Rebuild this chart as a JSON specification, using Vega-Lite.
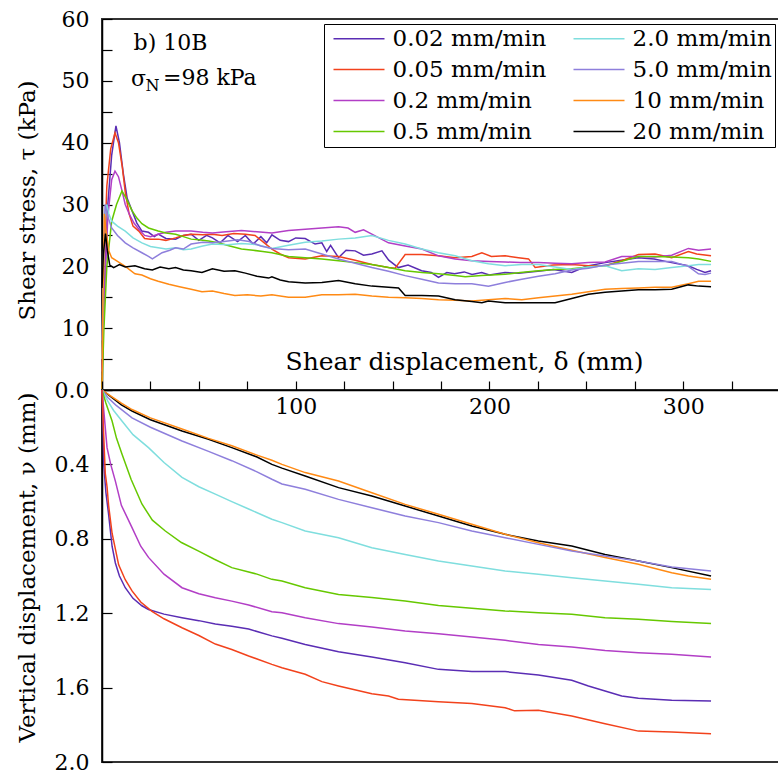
{
"$schema": "https://vega.github.io/schema/vega-lite/v6.json",
"padding": {"left": 14, "top": 7, "right": 0, "bottom": 5},
"background": "white",
"spacing": 0,
"bounds": "flush",
"config": {
  "font": "DejaVu Serif",
  "view": {"stroke": "#333333", "strokeWidth": 2},
  "axis": {"labelFont": "DejaVu Serif", "titleFont": "DejaVu Serif", "labelFontSize": 22, "titleFontSize": 23, "labelColor": "black", "titleColor": "black", "domainColor": "black", "tickColor": "black", "titleFontWeight": "normal", "grid": false, "domainWidth": 1.5, "tickWidth": 1.2, "labelOverlap": false, "labelFlush": false, "labelBound": false}
},
"datasets": {
  "tau": [
{"s":"0.02 mm/min","x":0,"y":2},{"s":"0.02 mm/min","x":1,"y":15},{"s":"0.02 mm/min","x":3,"y":30},{"s":"0.02 mm/min","x":5,"y":38},{"s":"0.02 mm/min","x":7.2,"y":42.7},{"s":"0.02 mm/min","x":9,"y":40},{"s":"0.02 mm/min","x":11,"y":35},{"s":"0.02 mm/min","x":13,"y":31},{"s":"0.02 mm/min","x":15.5,"y":29},{"s":"0.02 mm/min","x":18,"y":27},{"s":"0.02 mm/min","x":20.6,"y":25.7},{"s":"0.02 mm/min","x":24,"y":25.5},{"s":"0.02 mm/min","x":27,"y":24.8},{"s":"0.02 mm/min","x":29,"y":25.2},{"s":"0.02 mm/min","x":33,"y":24.5},{"s":"0.02 mm/min","x":38,"y":24.4},{"s":"0.02 mm/min","x":42,"y":25},{"s":"0.02 mm/min","x":46,"y":25.2},{"s":"0.02 mm/min","x":50,"y":24.2},{"s":"0.02 mm/min","x":54,"y":25},{"s":"0.02 mm/min","x":57,"y":24.6},{"s":"0.02 mm/min","x":61,"y":23.8},{"s":"0.02 mm/min","x":65,"y":25},{"s":"0.02 mm/min","x":70,"y":24},{"s":"0.02 mm/min","x":74,"y":25},{"s":"0.02 mm/min","x":78,"y":23.6},{"s":"0.02 mm/min","x":82,"y":24.8},{"s":"0.02 mm/min","x":85,"y":23.8},{"s":"0.02 mm/min","x":87.7,"y":25.1},{"s":"0.02 mm/min","x":92,"y":24.2},{"s":"0.02 mm/min","x":96.3,"y":24},{"s":"0.02 mm/min","x":100,"y":24.6},{"s":"0.02 mm/min","x":104.9,"y":24.5},{"s":"0.02 mm/min","x":110,"y":23.6},{"s":"0.02 mm/min","x":113.5,"y":23.8},{"s":"0.02 mm/min","x":116,"y":22.4},{"s":"0.02 mm/min","x":118,"y":23.4},{"s":"0.02 mm/min","x":122.1,"y":21.4},{"s":"0.02 mm/min","x":126,"y":22.6},{"s":"0.02 mm/min","x":130.7,"y":22.5},{"s":"0.02 mm/min","x":135,"y":21.8},{"s":"0.02 mm/min","x":139.3,"y":22},{"s":"0.02 mm/min","x":144.5,"y":22.5},{"s":"0.02 mm/min","x":148,"y":21},{"s":"0.02 mm/min","x":153,"y":19.8},{"s":"0.02 mm/min","x":158,"y":20.2},{"s":"0.02 mm/min","x":165,"y":19.3},{"s":"0.02 mm/min","x":170,"y":19},{"s":"0.02 mm/min","x":173.7,"y":18.2},{"s":"0.02 mm/min","x":178,"y":19},{"s":"0.02 mm/min","x":182,"y":18.8},{"s":"0.02 mm/min","x":187,"y":19.1},{"s":"0.02 mm/min","x":191,"y":18.7},{"s":"0.02 mm/min","x":196,"y":19},{"s":"0.02 mm/min","x":200,"y":18.6},{"s":"0.02 mm/min","x":208,"y":19},{"s":"0.02 mm/min","x":215,"y":18.9},{"s":"0.02 mm/min","x":225,"y":19.2},{"s":"0.02 mm/min","x":233,"y":19.5},{"s":"0.02 mm/min","x":242.5,"y":19},{"s":"0.02 mm/min","x":250,"y":20},{"s":"0.02 mm/min","x":259.7,"y":20.6},{"s":"0.02 mm/min","x":268,"y":21},{"s":"0.02 mm/min","x":276.9,"y":21.4},{"s":"0.02 mm/min","x":285,"y":21.2},{"s":"0.02 mm/min","x":294,"y":20.6},{"s":"0.02 mm/min","x":302.7,"y":20.1},{"s":"0.02 mm/min","x":307,"y":19.5},{"s":"0.02 mm/min","x":311.3,"y":19},{"s":"0.02 mm/min","x":314.4,"y":19.3},
{"s":"0.05 mm/min","x":0,"y":5},{"s":"0.05 mm/min","x":1,"y":20},{"s":"0.05 mm/min","x":2.5,"y":33},{"s":"0.05 mm/min","x":4.5,"y":39},{"s":"0.05 mm/min","x":6.7,"y":41.6},{"s":"0.05 mm/min","x":8.5,"y":40},{"s":"0.05 mm/min","x":10.5,"y":36},{"s":"0.05 mm/min","x":12,"y":32},{"s":"0.05 mm/min","x":14,"y":28.5},{"s":"0.05 mm/min","x":16,"y":26.5},{"s":"0.05 mm/min","x":19,"y":25.7},{"s":"0.05 mm/min","x":22,"y":24.5},{"s":"0.05 mm/min","x":25,"y":24.4},{"s":"0.05 mm/min","x":29,"y":24.4},{"s":"0.05 mm/min","x":33,"y":24.2},{"s":"0.05 mm/min","x":38,"y":24.6},{"s":"0.05 mm/min","x":42,"y":25},{"s":"0.05 mm/min","x":46,"y":25.2},{"s":"0.05 mm/min","x":52,"y":25.1},{"s":"0.05 mm/min","x":57,"y":25.2},{"s":"0.05 mm/min","x":62,"y":25},{"s":"0.05 mm/min","x":68,"y":25.3},{"s":"0.05 mm/min","x":74,"y":25.2},{"s":"0.05 mm/min","x":79,"y":25},{"s":"0.05 mm/min","x":83,"y":24},{"s":"0.05 mm/min","x":87.7,"y":22.8},{"s":"0.05 mm/min","x":92,"y":22},{"s":"0.05 mm/min","x":96.3,"y":21.4},{"s":"0.05 mm/min","x":104.9,"y":21.2},{"s":"0.05 mm/min","x":113.5,"y":21.7},{"s":"0.05 mm/min","x":122.1,"y":21.6},{"s":"0.05 mm/min","x":130.7,"y":21},{"s":"0.05 mm/min","x":139.3,"y":20.3},{"s":"0.05 mm/min","x":147.9,"y":19.8},{"s":"0.05 mm/min","x":151.3,"y":19.7},{"s":"0.05 mm/min","x":156.5,"y":21.9},{"s":"0.05 mm/min","x":165.1,"y":21.9},{"s":"0.05 mm/min","x":173.7,"y":21.7},{"s":"0.05 mm/min","x":182.3,"y":21.4},{"s":"0.05 mm/min","x":190.9,"y":21.6},{"s":"0.05 mm/min","x":196.1,"y":22.2},{"s":"0.05 mm/min","x":201,"y":21.6},{"s":"0.05 mm/min","x":208.1,"y":21.7},{"s":"0.05 mm/min","x":215,"y":21.4},{"s":"0.05 mm/min","x":220.2,"y":21.2},{"s":"0.05 mm/min","x":223.6,"y":19.8},{"s":"0.05 mm/min","x":233,"y":20.2},{"s":"0.05 mm/min","x":242.5,"y":20.3},{"s":"0.05 mm/min","x":251,"y":20.1},{"s":"0.05 mm/min","x":259.7,"y":20.1},{"s":"0.05 mm/min","x":268.3,"y":20.9},{"s":"0.05 mm/min","x":276.9,"y":21.9},{"s":"0.05 mm/min","x":285.5,"y":22},{"s":"0.05 mm/min","x":294.1,"y":21.4},{"s":"0.05 mm/min","x":302.7,"y":22.4},{"s":"0.05 mm/min","x":307,"y":22},{"s":"0.05 mm/min","x":314.4,"y":21.7},
{"s":"0.2 mm/min","x":0,"y":3},{"s":"0.2 mm/min","x":1,"y":14},{"s":"0.2 mm/min","x":3,"y":28},{"s":"0.2 mm/min","x":5,"y":34},{"s":"0.2 mm/min","x":6.7,"y":35.4},{"s":"0.2 mm/min","x":8.5,"y":34.5},{"s":"0.2 mm/min","x":10.5,"y":32},{"s":"0.2 mm/min","x":12,"y":30},{"s":"0.2 mm/min","x":14,"y":28.5},{"s":"0.2 mm/min","x":16.5,"y":27},{"s":"0.2 mm/min","x":19,"y":26},{"s":"0.2 mm/min","x":22,"y":25},{"s":"0.2 mm/min","x":25,"y":24.8},{"s":"0.2 mm/min","x":29,"y":25.2},{"s":"0.2 mm/min","x":33,"y":25.5},{"s":"0.2 mm/min","x":38,"y":25.7},{"s":"0.2 mm/min","x":46,"y":25.7},{"s":"0.2 mm/min","x":52,"y":25.5},{"s":"0.2 mm/min","x":57,"y":25.4},{"s":"0.2 mm/min","x":64,"y":25.6},{"s":"0.2 mm/min","x":72,"y":25.8},{"s":"0.2 mm/min","x":80,"y":25.6},{"s":"0.2 mm/min","x":87.7,"y":25.4},{"s":"0.2 mm/min","x":96.3,"y":25.8},{"s":"0.2 mm/min","x":104.9,"y":26},{"s":"0.2 mm/min","x":113.5,"y":26.2},{"s":"0.2 mm/min","x":122.1,"y":26.4},{"s":"0.2 mm/min","x":127,"y":26.2},{"s":"0.2 mm/min","x":130.7,"y":25.5},{"s":"0.2 mm/min","x":135,"y":25.9},{"s":"0.2 mm/min","x":139.3,"y":25.2},{"s":"0.2 mm/min","x":147.9,"y":23.8},{"s":"0.2 mm/min","x":156.5,"y":23.3},{"s":"0.2 mm/min","x":165.1,"y":22.8},{"s":"0.2 mm/min","x":173.7,"y":21.7},{"s":"0.2 mm/min","x":182.3,"y":21.2},{"s":"0.2 mm/min","x":190.9,"y":20.9},{"s":"0.2 mm/min","x":200,"y":20.8},{"s":"0.2 mm/min","x":208.1,"y":20.7},{"s":"0.2 mm/min","x":216,"y":20.6},{"s":"0.2 mm/min","x":225.3,"y":20.6},{"s":"0.2 mm/min","x":233.9,"y":20.5},{"s":"0.2 mm/min","x":242.5,"y":20.4},{"s":"0.2 mm/min","x":251,"y":20.6},{"s":"0.2 mm/min","x":259.7,"y":20.7},{"s":"0.2 mm/min","x":268.3,"y":21.6},{"s":"0.2 mm/min","x":276.9,"y":21.6},{"s":"0.2 mm/min","x":285.5,"y":21.5},{"s":"0.2 mm/min","x":294.1,"y":21.8},{"s":"0.2 mm/min","x":302.7,"y":22.9},{"s":"0.2 mm/min","x":308,"y":22.6},{"s":"0.2 mm/min","x":314.4,"y":22.8},
{"s":"0.5 mm/min","x":0,"y":0},{"s":"0.5 mm/min","x":1,"y":10},{"s":"0.5 mm/min","x":2.5,"y":20},{"s":"0.5 mm/min","x":5,"y":27.3},{"s":"0.5 mm/min","x":7.5,"y":30},{"s":"0.5 mm/min","x":10.3,"y":32.2},{"s":"0.5 mm/min","x":12.5,"y":31},{"s":"0.5 mm/min","x":15.5,"y":29},{"s":"0.5 mm/min","x":18,"y":27.8},{"s":"0.5 mm/min","x":20.6,"y":26.9},{"s":"0.5 mm/min","x":24,"y":26.2},{"s":"0.5 mm/min","x":29,"y":25.7},{"s":"0.5 mm/min","x":33,"y":25.4},{"s":"0.5 mm/min","x":38,"y":25.2},{"s":"0.5 mm/min","x":42,"y":24.8},{"s":"0.5 mm/min","x":46,"y":24.4},{"s":"0.5 mm/min","x":50,"y":24.3},{"s":"0.5 mm/min","x":55,"y":24.1},{"s":"0.5 mm/min","x":60,"y":23.8},{"s":"0.5 mm/min","x":66,"y":23.3},{"s":"0.5 mm/min","x":72,"y":22.8},{"s":"0.5 mm/min","x":78,"y":22.6},{"s":"0.5 mm/min","x":83,"y":22.4},{"s":"0.5 mm/min","x":87.7,"y":22.2},{"s":"0.5 mm/min","x":96.3,"y":21.6},{"s":"0.5 mm/min","x":104.9,"y":21.4},{"s":"0.5 mm/min","x":113.5,"y":21.2},{"s":"0.5 mm/min","x":122.1,"y":20.9},{"s":"0.5 mm/min","x":130.7,"y":20.6},{"s":"0.5 mm/min","x":139.3,"y":20.3},{"s":"0.5 mm/min","x":147.9,"y":19.8},{"s":"0.5 mm/min","x":156.5,"y":19.3},{"s":"0.5 mm/min","x":165.1,"y":19},{"s":"0.5 mm/min","x":173.7,"y":18.8},{"s":"0.5 mm/min","x":182.3,"y":18.5},{"s":"0.5 mm/min","x":187.5,"y":18.3},{"s":"0.5 mm/min","x":196,"y":18.5},{"s":"0.5 mm/min","x":208.1,"y":18.7},{"s":"0.5 mm/min","x":216,"y":19},{"s":"0.5 mm/min","x":225.3,"y":19.3},{"s":"0.5 mm/min","x":233.9,"y":19.5},{"s":"0.5 mm/min","x":242.5,"y":19.6},{"s":"0.5 mm/min","x":251,"y":19.9},{"s":"0.5 mm/min","x":259.7,"y":20.1},{"s":"0.5 mm/min","x":268.3,"y":20.8},{"s":"0.5 mm/min","x":276.9,"y":21.6},{"s":"0.5 mm/min","x":285.5,"y":21.6},{"s":"0.5 mm/min","x":294.1,"y":21.5},{"s":"0.5 mm/min","x":302.7,"y":21.4},{"s":"0.5 mm/min","x":308,"y":21.2},{"s":"0.5 mm/min","x":314.4,"y":20.8},
{"s":"2.0 mm/min","x":0,"y":5},{"s":"2.0 mm/min","x":0.8,"y":20},{"s":"2.0 mm/min","x":1.5,"y":28},{"s":"2.0 mm/min","x":2.5,"y":30},{"s":"2.0 mm/min","x":3.5,"y":28.5},{"s":"2.0 mm/min","x":5,"y":27.3},{"s":"2.0 mm/min","x":8,"y":26.5},{"s":"2.0 mm/min","x":12,"y":25.7},{"s":"2.0 mm/min","x":16,"y":24.6},{"s":"2.0 mm/min","x":20.6,"y":23.8},{"s":"2.0 mm/min","x":25,"y":23.2},{"s":"2.0 mm/min","x":29,"y":23},{"s":"2.0 mm/min","x":33,"y":22.8},{"s":"2.0 mm/min","x":38,"y":23},{"s":"2.0 mm/min","x":42,"y":22.7},{"s":"2.0 mm/min","x":46,"y":22.8},{"s":"2.0 mm/min","x":52,"y":23.3},{"s":"2.0 mm/min","x":57,"y":23.6},{"s":"2.0 mm/min","x":65,"y":23.5},{"s":"2.0 mm/min","x":72,"y":23.7},{"s":"2.0 mm/min","x":80,"y":23.5},{"s":"2.0 mm/min","x":87.7,"y":22.9},{"s":"2.0 mm/min","x":96.3,"y":23.4},{"s":"2.0 mm/min","x":104.9,"y":23.9},{"s":"2.0 mm/min","x":113.5,"y":24.1},{"s":"2.0 mm/min","x":122.1,"y":24.4},{"s":"2.0 mm/min","x":130.7,"y":24.6},{"s":"2.0 mm/min","x":139.3,"y":25},{"s":"2.0 mm/min","x":147.9,"y":24.2},{"s":"2.0 mm/min","x":156.5,"y":23.6},{"s":"2.0 mm/min","x":165.1,"y":22.8},{"s":"2.0 mm/min","x":173.7,"y":22.2},{"s":"2.0 mm/min","x":182.3,"y":21.7},{"s":"2.0 mm/min","x":190.9,"y":20.9},{"s":"2.0 mm/min","x":199.5,"y":20.4},{"s":"2.0 mm/min","x":208.1,"y":20.1},{"s":"2.0 mm/min","x":216.7,"y":20.3},{"s":"2.0 mm/min","x":225.3,"y":20.3},{"s":"2.0 mm/min","x":233.9,"y":19.9},{"s":"2.0 mm/min","x":242.5,"y":19.5},{"s":"2.0 mm/min","x":251.1,"y":19.9},{"s":"2.0 mm/min","x":259.7,"y":20.1},{"s":"2.0 mm/min","x":268.3,"y":19.3},{"s":"2.0 mm/min","x":276.9,"y":19.6},{"s":"2.0 mm/min","x":285.5,"y":19.5},{"s":"2.0 mm/min","x":294.1,"y":19.8},{"s":"2.0 mm/min","x":302.7,"y":20.1},{"s":"2.0 mm/min","x":308,"y":20.3},{"s":"2.0 mm/min","x":314.4,"y":20.3},
{"s":"5.0 mm/min","x":0,"y":8},{"s":"5.0 mm/min","x":0.8,"y":22},{"s":"5.0 mm/min","x":1.6,"y":30},{"s":"5.0 mm/min","x":3,"y":28},{"s":"5.0 mm/min","x":5,"y":26.2},{"s":"5.0 mm/min","x":8,"y":25},{"s":"5.0 mm/min","x":12,"y":23.8},{"s":"5.0 mm/min","x":16,"y":23},{"s":"5.0 mm/min","x":20.6,"y":22.2},{"s":"5.0 mm/min","x":24,"y":21.6},{"s":"5.0 mm/min","x":26,"y":21.2},{"s":"5.0 mm/min","x":28,"y":21.6},{"s":"5.0 mm/min","x":31,"y":22.2},{"s":"5.0 mm/min","x":35,"y":22.6},{"s":"5.0 mm/min","x":38,"y":23},{"s":"5.0 mm/min","x":42,"y":22.8},{"s":"5.0 mm/min","x":46,"y":23.6},{"s":"5.0 mm/min","x":52,"y":23.9},{"s":"5.0 mm/min","x":57,"y":23.8},{"s":"5.0 mm/min","x":63,"y":24},{"s":"5.0 mm/min","x":70,"y":24.3},{"s":"5.0 mm/min","x":76,"y":24},{"s":"5.0 mm/min","x":82,"y":23.3},{"s":"5.0 mm/min","x":87.7,"y":22.9},{"s":"5.0 mm/min","x":96.3,"y":22.7},{"s":"5.0 mm/min","x":104.9,"y":22.8},{"s":"5.0 mm/min","x":113.5,"y":22},{"s":"5.0 mm/min","x":122.1,"y":21.2},{"s":"5.0 mm/min","x":130.7,"y":20.5},{"s":"5.0 mm/min","x":139.3,"y":19.8},{"s":"5.0 mm/min","x":147.9,"y":19.2},{"s":"5.0 mm/min","x":156.5,"y":18.5},{"s":"5.0 mm/min","x":165.1,"y":17.9},{"s":"5.0 mm/min","x":173.7,"y":17.3},{"s":"5.0 mm/min","x":182.3,"y":17.2},{"s":"5.0 mm/min","x":190.9,"y":17.2},{"s":"5.0 mm/min","x":199.5,"y":16.8},{"s":"5.0 mm/min","x":208.1,"y":17.4},{"s":"5.0 mm/min","x":216.7,"y":17.9},{"s":"5.0 mm/min","x":225.3,"y":18.4},{"s":"5.0 mm/min","x":233.9,"y":18.8},{"s":"5.0 mm/min","x":242.5,"y":19.4},{"s":"5.0 mm/min","x":251.1,"y":19.7},{"s":"5.0 mm/min","x":259.7,"y":20.2},{"s":"5.0 mm/min","x":268.3,"y":20.5},{"s":"5.0 mm/min","x":276.9,"y":20.8},{"s":"5.0 mm/min","x":285.5,"y":20.8},{"s":"5.0 mm/min","x":294.1,"y":20.8},{"s":"5.0 mm/min","x":302.7,"y":20},{"s":"5.0 mm/min","x":307.9,"y":18.8},{"s":"5.0 mm/min","x":311.3,"y":18.7},{"s":"5.0 mm/min","x":314.4,"y":18.9},
{"s":"10 mm/min","x":0,"y":0},{"s":"10 mm/min","x":0.5,"y":15},{"s":"10 mm/min","x":1.2,"y":28.5},{"s":"10 mm/min","x":2,"y":26},{"s":"10 mm/min","x":3.5,"y":22.5},{"s":"10 mm/min","x":5,"y":21.4},{"s":"10 mm/min","x":8,"y":20.8},{"s":"10 mm/min","x":12,"y":20},{"s":"10 mm/min","x":17,"y":18.8},{"s":"10 mm/min","x":20.6,"y":18.6},{"s":"10 mm/min","x":25,"y":18},{"s":"10 mm/min","x":29,"y":17.6},{"s":"10 mm/min","x":34.5,"y":17.1},{"s":"10 mm/min","x":40,"y":16.7},{"s":"10 mm/min","x":46,"y":16.3},{"s":"10 mm/min","x":51.6,"y":15.9},{"s":"10 mm/min","x":57,"y":16},{"s":"10 mm/min","x":63,"y":15.6},{"s":"10 mm/min","x":68.6,"y":15.3},{"s":"10 mm/min","x":75,"y":15.4},{"s":"10 mm/min","x":82,"y":15.2},{"s":"10 mm/min","x":87.7,"y":15.4},{"s":"10 mm/min","x":96.3,"y":15},{"s":"10 mm/min","x":104.9,"y":15},{"s":"10 mm/min","x":113.5,"y":15.4},{"s":"10 mm/min","x":122.1,"y":15.4},{"s":"10 mm/min","x":130.7,"y":15.5},{"s":"10 mm/min","x":139.3,"y":15.2},{"s":"10 mm/min","x":147.9,"y":15},{"s":"10 mm/min","x":156.5,"y":14.9},{"s":"10 mm/min","x":165.1,"y":14.8},{"s":"10 mm/min","x":173.7,"y":14.6},{"s":"10 mm/min","x":182.3,"y":14.5},{"s":"10 mm/min","x":190.9,"y":14.4},{"s":"10 mm/min","x":199.5,"y":14.6},{"s":"10 mm/min","x":208.1,"y":14.8},{"s":"10 mm/min","x":216.7,"y":14.6},{"s":"10 mm/min","x":225.3,"y":14.9},{"s":"10 mm/min","x":233.9,"y":15.2},{"s":"10 mm/min","x":242.5,"y":15.5},{"s":"10 mm/min","x":251.1,"y":15.9},{"s":"10 mm/min","x":259.7,"y":16.3},{"s":"10 mm/min","x":268.3,"y":16.4},{"s":"10 mm/min","x":276.9,"y":16.5},{"s":"10 mm/min","x":285.5,"y":16.6},{"s":"10 mm/min","x":294.1,"y":16.6},{"s":"10 mm/min","x":302.7,"y":17.2},{"s":"10 mm/min","x":308,"y":17.6},{"s":"10 mm/min","x":314.4,"y":17.6},
{"s":"20 mm/min","x":0,"y":16.5},{"s":"20 mm/min","x":0.7,"y":22},{"s":"20 mm/min","x":1.8,"y":25.3},{"s":"20 mm/min","x":2.8,"y":22.5},{"s":"20 mm/min","x":4,"y":20.2},{"s":"20 mm/min","x":6,"y":19.8},{"s":"20 mm/min","x":9,"y":20.3},{"s":"20 mm/min","x":12,"y":19.9},{"s":"20 mm/min","x":17,"y":20.1},{"s":"20 mm/min","x":22,"y":19.6},{"s":"20 mm/min","x":26,"y":19.4},{"s":"20 mm/min","x":30,"y":19.9},{"s":"20 mm/min","x":34.5,"y":19.6},{"s":"20 mm/min","x":38,"y":19.8},{"s":"20 mm/min","x":42,"y":19.4},{"s":"20 mm/min","x":46,"y":19.3},{"s":"20 mm/min","x":51.6,"y":19},{"s":"20 mm/min","x":57,"y":19.6},{"s":"20 mm/min","x":63,"y":19.2},{"s":"20 mm/min","x":68.6,"y":19.3},{"s":"20 mm/min","x":74,"y":18.9},{"s":"20 mm/min","x":80,"y":18.4},{"s":"20 mm/min","x":86,"y":18.1},{"s":"20 mm/min","x":87.7,"y":18.3},{"s":"20 mm/min","x":92,"y":17.8},{"s":"20 mm/min","x":96.3,"y":17.5},{"s":"20 mm/min","x":104.9,"y":17.3},{"s":"20 mm/min","x":113.5,"y":17.4},{"s":"20 mm/min","x":122.1,"y":17.7},{"s":"20 mm/min","x":130.7,"y":17.2},{"s":"20 mm/min","x":139.3,"y":16.8},{"s":"20 mm/min","x":147.9,"y":16.6},{"s":"20 mm/min","x":153.1,"y":16.5},{"s":"20 mm/min","x":156.5,"y":15.3},{"s":"20 mm/min","x":165.1,"y":15.3},{"s":"20 mm/min","x":173.7,"y":15.2},{"s":"20 mm/min","x":182.3,"y":14.6},{"s":"20 mm/min","x":190.9,"y":14.3},{"s":"20 mm/min","x":196.1,"y":14.1},{"s":"20 mm/min","x":199.5,"y":14.4},{"s":"20 mm/min","x":208.1,"y":14.1},{"s":"20 mm/min","x":216.7,"y":14.1},{"s":"20 mm/min","x":225.3,"y":14.1},{"s":"20 mm/min","x":233.9,"y":14.1},{"s":"20 mm/min","x":242.5,"y":14.8},{"s":"20 mm/min","x":251.1,"y":15.5},{"s":"20 mm/min","x":259.7,"y":15.8},{"s":"20 mm/min","x":268.3,"y":16},{"s":"20 mm/min","x":276.9,"y":16.2},{"s":"20 mm/min","x":285.5,"y":16.2},{"s":"20 mm/min","x":294.1,"y":16.3},{"s":"20 mm/min","x":302.7,"y":17},{"s":"20 mm/min","x":308,"y":16.8},{"s":"20 mm/min","x":314.4,"y":16.7}
  ],
  "nu": [
{"s":"20 mm/min","x":0,"y":0},{"s":"20 mm/min","x":5,"y":0.04},{"s":"20 mm/min","x":10,"y":0.08},{"s":"20 mm/min","x":15.5,"y":0.113},{"s":"20 mm/min","x":25,"y":0.16},{"s":"20 mm/min","x":41.3,"y":0.22},{"s":"20 mm/min","x":55,"y":0.265},{"s":"20 mm/min","x":67,"y":0.31},{"s":"20 mm/min","x":80,"y":0.36},{"s":"20 mm/min","x":87.7,"y":0.4},{"s":"20 mm/min","x":92.9,"y":0.42},{"s":"20 mm/min","x":104.9,"y":0.462},{"s":"20 mm/min","x":122.1,"y":0.525},{"s":"20 mm/min","x":139.3,"y":0.57},{"s":"20 mm/min","x":156.5,"y":0.624},{"s":"20 mm/min","x":173.7,"y":0.677},{"s":"20 mm/min","x":190.9,"y":0.731},{"s":"20 mm/min","x":208.1,"y":0.776},{"s":"20 mm/min","x":225.3,"y":0.812},{"s":"20 mm/min","x":242.5,"y":0.839},{"s":"20 mm/min","x":259.7,"y":0.884},{"s":"20 mm/min","x":276.9,"y":0.919},{"s":"20 mm/min","x":294.1,"y":0.955},{"s":"20 mm/min","x":314.4,"y":1},
{"s":"10 mm/min","x":0,"y":0},{"s":"10 mm/min","x":5,"y":0.035},{"s":"10 mm/min","x":10,"y":0.07},{"s":"10 mm/min","x":15.5,"y":0.105},{"s":"10 mm/min","x":25,"y":0.15},{"s":"10 mm/min","x":41.3,"y":0.21},{"s":"10 mm/min","x":55,"y":0.26},{"s":"10 mm/min","x":67,"y":0.3},{"s":"10 mm/min","x":80,"y":0.35},{"s":"10 mm/min","x":87.7,"y":0.378},{"s":"10 mm/min","x":92.9,"y":0.4},{"s":"10 mm/min","x":104.9,"y":0.444},{"s":"10 mm/min","x":122.1,"y":0.489},{"s":"10 mm/min","x":139.3,"y":0.552},{"s":"10 mm/min","x":156.5,"y":0.615},{"s":"10 mm/min","x":173.7,"y":0.668},{"s":"10 mm/min","x":190.9,"y":0.722},{"s":"10 mm/min","x":208.1,"y":0.776},{"s":"10 mm/min","x":225.3,"y":0.821},{"s":"10 mm/min","x":242.5,"y":0.862},{"s":"10 mm/min","x":259.7,"y":0.901},{"s":"10 mm/min","x":276.9,"y":0.937},{"s":"10 mm/min","x":294.1,"y":0.982},{"s":"10 mm/min","x":302.7,"y":1},{"s":"10 mm/min","x":314.4,"y":1.018},
{"s":"5.0 mm/min","x":0,"y":0},{"s":"5.0 mm/min","x":3,"y":0.04},{"s":"5.0 mm/min","x":7,"y":0.08},{"s":"5.0 mm/min","x":15.5,"y":0.15},{"s":"5.0 mm/min","x":25,"y":0.2},{"s":"5.0 mm/min","x":41.3,"y":0.274},{"s":"5.0 mm/min","x":55,"y":0.33},{"s":"5.0 mm/min","x":67,"y":0.38},{"s":"5.0 mm/min","x":80,"y":0.44},{"s":"5.0 mm/min","x":87.7,"y":0.48},{"s":"5.0 mm/min","x":92.9,"y":0.505},{"s":"5.0 mm/min","x":104.9,"y":0.534},{"s":"5.0 mm/min","x":122.1,"y":0.588},{"s":"5.0 mm/min","x":139.3,"y":0.633},{"s":"5.0 mm/min","x":156.5,"y":0.677},{"s":"5.0 mm/min","x":173.7,"y":0.713},{"s":"5.0 mm/min","x":190.9,"y":0.758},{"s":"5.0 mm/min","x":208.1,"y":0.794},{"s":"5.0 mm/min","x":225.3,"y":0.83},{"s":"5.0 mm/min","x":242.5,"y":0.866},{"s":"5.0 mm/min","x":259.7,"y":0.893},{"s":"5.0 mm/min","x":276.9,"y":0.919},{"s":"5.0 mm/min","x":294.1,"y":0.952},{"s":"5.0 mm/min","x":314.4,"y":0.973},
{"s":"2.0 mm/min","x":0,"y":0},{"s":"2.0 mm/min","x":3,"y":0.06},{"s":"2.0 mm/min","x":6,"y":0.11},{"s":"2.0 mm/min","x":10.3,"y":0.167},{"s":"2.0 mm/min","x":16,"y":0.24},{"s":"2.0 mm/min","x":24,"y":0.31},{"s":"2.0 mm/min","x":32,"y":0.39},{"s":"2.0 mm/min","x":41.3,"y":0.47},{"s":"2.0 mm/min","x":50,"y":0.52},{"s":"2.0 mm/min","x":58.5,"y":0.56},{"s":"2.0 mm/min","x":67,"y":0.6},{"s":"2.0 mm/min","x":75.7,"y":0.64},{"s":"2.0 mm/min","x":87.7,"y":0.695},{"s":"2.0 mm/min","x":92.9,"y":0.713},{"s":"2.0 mm/min","x":104.9,"y":0.758},{"s":"2.0 mm/min","x":122.1,"y":0.794},{"s":"2.0 mm/min","x":139.3,"y":0.848},{"s":"2.0 mm/min","x":156.5,"y":0.884},{"s":"2.0 mm/min","x":173.7,"y":0.919},{"s":"2.0 mm/min","x":190.9,"y":0.946},{"s":"2.0 mm/min","x":208.1,"y":0.973},{"s":"2.0 mm/min","x":225.3,"y":0.991},{"s":"2.0 mm/min","x":242.5,"y":1.009},{"s":"2.0 mm/min","x":259.7,"y":1.027},{"s":"2.0 mm/min","x":276.9,"y":1.045},{"s":"2.0 mm/min","x":294.1,"y":1.063},{"s":"2.0 mm/min","x":314.4,"y":1.072},
{"s":"0.5 mm/min","x":0,"y":0},{"s":"0.5 mm/min","x":2,"y":0.07},{"s":"0.5 mm/min","x":5.2,"y":0.167},{"s":"0.5 mm/min","x":7.5,"y":0.26},{"s":"0.5 mm/min","x":10.3,"y":0.344},{"s":"0.5 mm/min","x":15,"y":0.48},{"s":"0.5 mm/min","x":20.6,"y":0.613},{"s":"0.5 mm/min","x":26,"y":0.7},{"s":"0.5 mm/min","x":32.7,"y":0.758},{"s":"0.5 mm/min","x":41,"y":0.82},{"s":"0.5 mm/min","x":49.9,"y":0.866},{"s":"0.5 mm/min","x":58,"y":0.91},{"s":"0.5 mm/min","x":67,"y":0.955},{"s":"0.5 mm/min","x":80,"y":0.99},{"s":"0.5 mm/min","x":87.7,"y":1.018},{"s":"0.5 mm/min","x":92.9,"y":1.027},{"s":"0.5 mm/min","x":104.9,"y":1.063},{"s":"0.5 mm/min","x":122.1,"y":1.099},{"s":"0.5 mm/min","x":139.3,"y":1.116},{"s":"0.5 mm/min","x":156.5,"y":1.134},{"s":"0.5 mm/min","x":173.7,"y":1.158},{"s":"0.5 mm/min","x":190.9,"y":1.174},{"s":"0.5 mm/min","x":208.1,"y":1.188},{"s":"0.5 mm/min","x":225.3,"y":1.197},{"s":"0.5 mm/min","x":242.5,"y":1.206},{"s":"0.5 mm/min","x":259.7,"y":1.224},{"s":"0.5 mm/min","x":276.9,"y":1.233},{"s":"0.5 mm/min","x":294.1,"y":1.245},{"s":"0.5 mm/min","x":314.4,"y":1.256},
{"s":"0.2 mm/min","x":0,"y":0},{"s":"0.2 mm/min","x":1,"y":0.12},{"s":"0.2 mm/min","x":2.6,"y":0.31},{"s":"0.2 mm/min","x":4.5,"y":0.4},{"s":"0.2 mm/min","x":6.9,"y":0.49},{"s":"0.2 mm/min","x":10,"y":0.62},{"s":"0.2 mm/min","x":15.5,"y":0.74},{"s":"0.2 mm/min","x":20,"y":0.84},{"s":"0.2 mm/min","x":24,"y":0.9},{"s":"0.2 mm/min","x":32,"y":0.99},{"s":"0.2 mm/min","x":41.3,"y":1.063},{"s":"0.2 mm/min","x":50,"y":1.095},{"s":"0.2 mm/min","x":58.5,"y":1.117},{"s":"0.2 mm/min","x":67,"y":1.135},{"s":"0.2 mm/min","x":75.7,"y":1.156},{"s":"0.2 mm/min","x":87.7,"y":1.192},{"s":"0.2 mm/min","x":92.9,"y":1.197},{"s":"0.2 mm/min","x":104.9,"y":1.224},{"s":"0.2 mm/min","x":122.1,"y":1.256},{"s":"0.2 mm/min","x":139.3,"y":1.274},{"s":"0.2 mm/min","x":156.5,"y":1.296},{"s":"0.2 mm/min","x":173.7,"y":1.31},{"s":"0.2 mm/min","x":190.9,"y":1.328},{"s":"0.2 mm/min","x":208.1,"y":1.346},{"s":"0.2 mm/min","x":225.3,"y":1.368},{"s":"0.2 mm/min","x":242.5,"y":1.382},{"s":"0.2 mm/min","x":259.7,"y":1.4},{"s":"0.2 mm/min","x":276.9,"y":1.412},{"s":"0.2 mm/min","x":294.1,"y":1.421},{"s":"0.2 mm/min","x":314.4,"y":1.436},
{"s":"0.02 mm/min","x":0,"y":0},{"s":"0.02 mm/min","x":0.5,"y":0.2},{"s":"0.02 mm/min","x":0.9,"y":0.4},{"s":"0.02 mm/min","x":2,"y":0.55},{"s":"0.02 mm/min","x":3.4,"y":0.667},{"s":"0.02 mm/min","x":5.2,"y":0.84},{"s":"0.02 mm/min","x":6.9,"y":0.93},{"s":"0.02 mm/min","x":9,"y":1},{"s":"0.02 mm/min","x":12,"y":1.063},{"s":"0.02 mm/min","x":16,"y":1.12},{"s":"0.02 mm/min","x":20.6,"y":1.16},{"s":"0.02 mm/min","x":24,"y":1.18},{"s":"0.02 mm/min","x":32,"y":1.205},{"s":"0.02 mm/min","x":41.3,"y":1.224},{"s":"0.02 mm/min","x":50,"y":1.24},{"s":"0.02 mm/min","x":58.5,"y":1.258},{"s":"0.02 mm/min","x":67,"y":1.27},{"s":"0.02 mm/min","x":75.7,"y":1.285},{"s":"0.02 mm/min","x":87.7,"y":1.322},{"s":"0.02 mm/min","x":92.9,"y":1.335},{"s":"0.02 mm/min","x":104.9,"y":1.368},{"s":"0.02 mm/min","x":122.1,"y":1.407},{"s":"0.02 mm/min","x":139.3,"y":1.436},{"s":"0.02 mm/min","x":156.5,"y":1.466},{"s":"0.02 mm/min","x":173.7,"y":1.502},{"s":"0.02 mm/min","x":190.9,"y":1.514},{"s":"0.02 mm/min","x":208.1,"y":1.514},{"s":"0.02 mm/min","x":225.3,"y":1.532},{"s":"0.02 mm/min","x":242.5,"y":1.561},{"s":"0.02 mm/min","x":251.1,"y":1.591},{"s":"0.02 mm/min","x":259.7,"y":1.618},{"s":"0.02 mm/min","x":268.3,"y":1.645},{"s":"0.02 mm/min","x":276.9,"y":1.657},{"s":"0.02 mm/min","x":294.1,"y":1.668},{"s":"0.02 mm/min","x":314.4,"y":1.672},
{"s":"0.05 mm/min","x":0,"y":0},{"s":"0.05 mm/min","x":0.7,"y":0.2},{"s":"0.05 mm/min","x":1.7,"y":0.45},{"s":"0.05 mm/min","x":2.6,"y":0.52},{"s":"0.05 mm/min","x":3.4,"y":0.62},{"s":"0.05 mm/min","x":5.2,"y":0.77},{"s":"0.05 mm/min","x":8.6,"y":0.94},{"s":"0.05 mm/min","x":12,"y":1.02},{"s":"0.05 mm/min","x":15.5,"y":1.08},{"s":"0.05 mm/min","x":20,"y":1.14},{"s":"0.05 mm/min","x":25.8,"y":1.19},{"s":"0.05 mm/min","x":32,"y":1.23},{"s":"0.05 mm/min","x":41.3,"y":1.278},{"s":"0.05 mm/min","x":50,"y":1.32},{"s":"0.05 mm/min","x":58.5,"y":1.366},{"s":"0.05 mm/min","x":67,"y":1.395},{"s":"0.05 mm/min","x":75.7,"y":1.43},{"s":"0.05 mm/min","x":87.7,"y":1.475},{"s":"0.05 mm/min","x":92.9,"y":1.493},{"s":"0.05 mm/min","x":104.9,"y":1.528},{"s":"0.05 mm/min","x":113.5,"y":1.568},{"s":"0.05 mm/min","x":122.1,"y":1.591},{"s":"0.05 mm/min","x":139.3,"y":1.633},{"s":"0.05 mm/min","x":147.9,"y":1.645},{"s":"0.05 mm/min","x":153,"y":1.663},{"s":"0.05 mm/min","x":173.7,"y":1.676},{"s":"0.05 mm/min","x":190.9,"y":1.686},{"s":"0.05 mm/min","x":208.1,"y":1.708},{"s":"0.05 mm/min","x":213,"y":1.725},{"s":"0.05 mm/min","x":225.3,"y":1.722},{"s":"0.05 mm/min","x":242.5,"y":1.753},{"s":"0.05 mm/min","x":259.7,"y":1.794},{"s":"0.05 mm/min","x":276.9,"y":1.834},{"s":"0.05 mm/min","x":294.1,"y":1.839},{"s":"0.05 mm/min","x":314.4,"y":1.848}
  ],
  "notes": [
    {"x": 16.3, "y": 55.0, "label": "b) 10B"},
    {"x": 15.0, "y": 49.2, "label": "σ"},
    {"x": 31.5, "y": 49.4, "label": "=98 kPa"}
  ],
  "subs": [
    {"x": 22.4, "y": 48.3, "label": "N"}
  ]
},
"resolve": {"legend": {"color": "independent"}},
"vconcat": [
  {
    "width": 678,
    "height": 371,
    "encoding": {
      "x": {"field": "x", "type": "quantitative", "scale": {"domain": [0, 350], "nice": false, "zero": false},
        "axis": {"orient": "bottom", "title": "Shear displacement, δ (mm)", "domain": false, "ticks": false, "labels": false, "titleFontSize": 25, "titleBaseline": "alphabetic", "titleY": -21, "titleX": 362}},
      "y": {"field": "y", "type": "quantitative", "scale": {"domain": [0, 60], "nice": false, "zero": false},
        "axis": {"values": [0, 5, 10, 15, 20, 25, 30, 35, 40, 45, 50, 55, 60], "labelExpr": "datum.value % 10 == 0 && datum.value > 0 ? datum.label : ''", "tickSize": -10, "labelPadding": 23, "title": "Shear stress, τ (kPa)", "titleX": -68, "titleY": 181, "titleBaseline": "alphabetic", "titleAngle": -90}}
    },
    "layer": [
      {
        "data": {"name": "tau"},
        "mark": {"type": "line", "strokeWidth": 1.5},
        "encoding": {
          "color": {"field": "s", "type": "nominal",
            "scale": {"domain": ["0.02 mm/min", "0.05 mm/min", "0.2 mm/min", "0.5 mm/min", "2.0 mm/min", "5.0 mm/min", "10 mm/min", "20 mm/min"],
                      "range": ["#5a2db4", "#f2421c", "#b23ec6", "#66c800", "#7fdede", "#8e7fdc", "#ff8a14", "#000000"]},
            "legend": {"orient": "top-right", "offset": 5, "title": null, "columns": 2, "symbolType": "M-3,0H3", "symbolSize": 289, "symbolStrokeWidth": 1.5, "symbolOffset": 20.5, "labelOffset": 22, "labelFont": "DejaVu Serif", "labelFontSize": 23, "labelColor": "black", "labelLimit": 400, "padding": 3, "rowPadding": 7, "columnPadding": 20, "strokeColor": "black", "fillColor": "white"}}
        }
      },
      {
        "data": {"name": "notes"},
        "mark": {"type": "text", "font": "DejaVu Serif", "fontSize": 22, "align": "left", "baseline": "alphabetic", "color": "black"},
        "encoding": {"text": {"field": "label"}}
      },
      {
        "data": {"name": "subs"},
        "mark": {"type": "text", "font": "DejaVu Serif", "fontSize": 16, "align": "left", "baseline": "alphabetic", "color": "black"},
        "encoding": {"text": {"field": "label"}}
      }
    ]
  },
  {
    "width": 678,
    "height": 372,
    "data": {"name": "nu"},
    "mark": {"type": "line", "strokeWidth": 1.5},
    "encoding": {
      "x": {"field": "x", "type": "quantitative", "scale": {"domain": [0, 350], "nice": false, "zero": false},
        "axis": {"orient": "top", "values": [0, 25, 50, 75, 100, 125, 150, 175, 200, 225, 250, 275, 300, 325, 350], "labelExpr": "datum.value == 100 || datum.value == 200 || datum.value == 300 ? datum.label : ''", "tickSize": 9, "labelPadding": -15, "labelBaseline": "top", "title": null}},
      "y": {"field": "y", "type": "quantitative", "scale": {"domain": [0, 2], "reverse": true, "nice": false, "zero": false},
        "axis": {"values": [0, 0.4, 0.8, 1.2, 1.6, 2.0], "format": ".1f", "tickSize": -10, "labelPadding": 23, "title": "Vertical displacement, ν (mm)", "titleX": -68, "titleY": 177, "titleBaseline": "alphabetic", "titleAngle": -90}},
      "color": {"field": "s", "type": "nominal",
        "scale": {"domain": ["0.02 mm/min", "0.05 mm/min", "0.2 mm/min", "0.5 mm/min", "2.0 mm/min", "5.0 mm/min", "10 mm/min", "20 mm/min"],
                  "range": ["#5a2db4", "#f2421c", "#b23ec6", "#66c800", "#7fdede", "#8e7fdc", "#ff8a14", "#000000"]},
        "legend": null}
    }
  }
]
}
